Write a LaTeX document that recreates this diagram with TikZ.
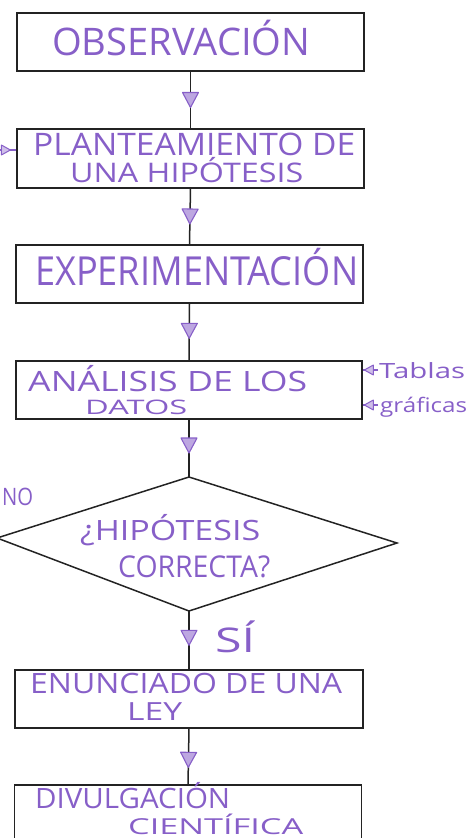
\documentclass[tikz,border=0pt]{standalone}
\usepackage{fontspec}
\setmainfont{Open Sans}
\usetikzlibrary{decorations.markings,arrows.meta}
\definecolor{ink}{RGB}{135,95,200}
\definecolor{frame}{RGB}{35,35,35}
% text of a given width (pt) at a given font size (pt), height kept
\newcommand\hw[3]{\resizebox{#1pt}{\height}{\fontsize{#2}{#2}\selectfont #3}}
\begin{document}
\begin{tikzpicture}[x=1pt,y=-1pt,
  box/.style={draw=frame,line width=1.5pt,inner sep=0pt},
  link/.style={draw=frame,line width=1.5pt},
  txt/.style={text=ink,inner sep=0pt,anchor=base west},
  tri/.style={postaction={decorate,decoration={markings,
      mark=at position #1 with {\draw[ink,fill=ink!55,line width=1.1pt,line join=round]
        (7.5,0) -- (-7.5,8) -- (-7.5,-8) -- cycle;}}}},
  stri/.style={postaction={decorate,decoration={markings,
      mark=at position #1 with {\draw[ink,fill=ink!40,line width=1pt,line join=round]
        (4.5,0) -- (-4.5,5) -- (-4.5,-5) -- cycle;}}}},
  note/.style={draw=ink,line width=1.1pt}]
\useasboundingbox (0,0) rectangle (469,838);

% process boxes
\node[box,minimum width=347pt,minimum height=58pt] (obs) at (190.5,42) {};
\node[box,minimum width=347pt,minimum height=59pt] (hip) at (190.5,158.5) {};
\node[box,minimum width=347pt,minimum height=58pt] (exp) at (189.5,274) {};
\node[box,minimum width=346pt,minimum height=58pt] (ana) at (189,390) {};
\node[box,minimum width=348pt,minimum height=58pt] (ley) at (189,699) {};
\node[box,minimum width=347pt,minimum height=70pt] (div) at (188,820) {};

% decision diamond
\coordinate (dt) at (189,477);
\coordinate (dr) at (397,543);
\coordinate (db) at (189,611);
\coordinate (dl) at (-3,538);
\draw[link,line join=miter] (dt) -- (dr) -- (db) -- (dl) -- cycle;

% box labels
\node[txt] (tobs) at (52,55) {\hw{258}{38}{OBSERVACIÓN}};
\node[txt] (thip1) at (33,155) {\hw{322}{31}{PLANTEAMIENTO DE}};
\node[txt] (thip2) at (70,182) {\hw{233}{27}{UNA HIPÓTESIS}};
\node[txt] (texp) at (35,285) {\hw{323}{40}{EXPERIMENTACIÓN}};
\node[txt] (tana1) at (28,391) {\hw{279}{28}{ANÁLISIS DE LOS}};
\node[txt] (tana2) at (85,414) {\hw{102}{20}{DATOS}};
\node[txt] (tdec1) at (80,540) {\hw{180}{28}{¿HIPÓTESIS}};
\node[txt] (tdec2) at (118,577) {\hw{152}{30}{CORRECTA?}};
\node[txt] (tley1) at (30,693) {\hw{312}{28}{ENUNCIADO DE UNA}};
\node[txt] (tley2) at (127,720) {\hw{55}{25}{LEY}};
\node[txt] (tdiv1) at (35,808) {\hw{195}{28}{DIVULGACIÓN}};
\node[txt] (tdiv2) at (128,834) {\hw{175}{22}{CIENTÍFICA}};

% branch labels
\node[txt] (tno) at (2,505) {\hw{31}{24}{NO}};
\node[txt] (tsi) at (215,652) {\hw{40}{34}{SÍ}};

% side notes
\node[txt] (ttab) at (379,378) {\hw{86}{21}{Tablas}};
\node[txt] (tgra) at (380,412) {\hw{87}{20}{gráficas}};

% flow connectors
\draw[link,tri=0.5] (obs.south) -- (hip.north);
\draw[link,tri=0.5] (hip.south) -- (exp.north);
\draw[link,tri=0.48] (exp.south) -- (ana.north);
\draw[link,tri=0.45] (ana.south) -- (dt);
\draw[link,tri=0.46] (db) -- (ley.north);
\draw[link,tri=0.56] (ley.south) -- (div.north);

% "no" return into the hypothesis box
\coordinate (nofb) at (-1,150);
\draw[note,stri=0.4] (nofb) -- (nofb -| hip.west);

% note pointers
\coordinate (tabl) at (378,370);
\coordinate (gral) at (378,405);
\draw[note,stri=0.6] (tabl) -- (tabl -| ana.east);
\draw[note,stri=0.6] (gral) -- (gral -| ana.east);
\end{tikzpicture}
\end{document}
